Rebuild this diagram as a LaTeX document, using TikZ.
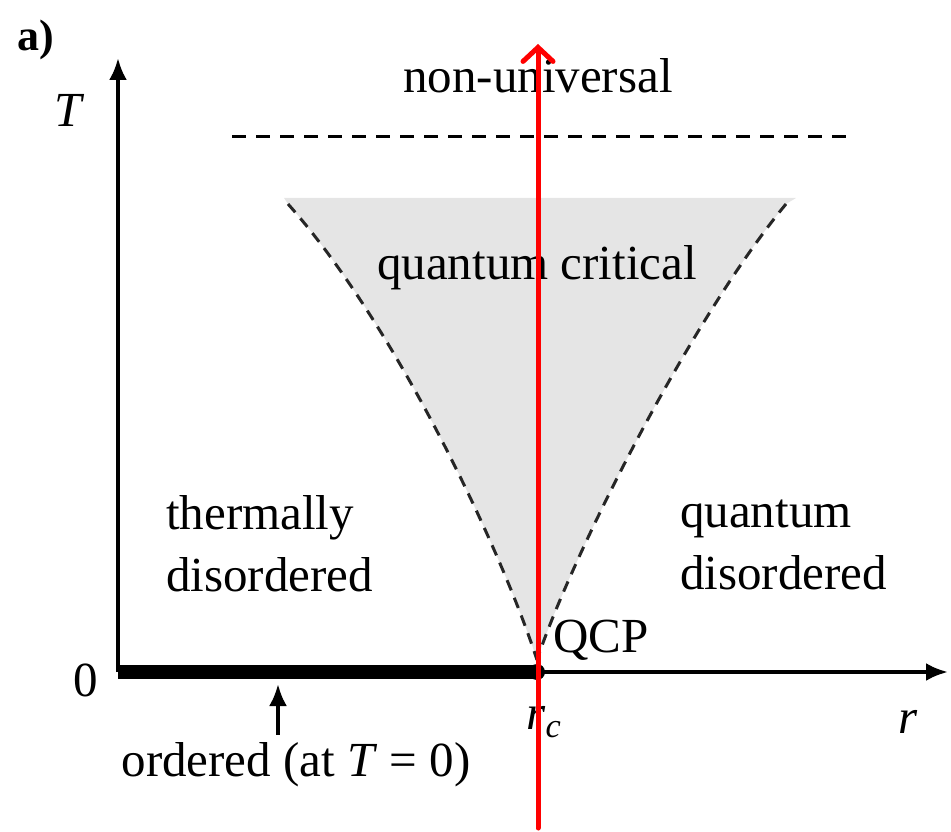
\documentclass[tikz,border=0pt]{standalone}
\usepackage{fontspec}
\setmainfont{Liberation Serif}
\usetikzlibrary{arrows.meta}
\begin{document}
\begin{tikzpicture}[x=1pt,y=-1pt,
  lbl/.style={inner sep=0pt,font=\fontsize{49}{62}\selectfont},
  axis/.style={line width=4pt,-{Latex[length=22pt,width=18pt]}},
  hdashline/.style={line width=3pt,dash pattern=on 14pt off 10pt},
  critline/.style={line width=3pt,dash pattern=on 11pt off 8pt,black!85}]
\useasboundingbox (0,0) rectangle (951,832);
% coordinates
\coordinate (O) at (118,672);
\coordinate (Ytop) at (118,58);
\coordinate (Xend) at (948,672);
\coordinate (QCPpt) at (537,672);
\coordinate (LT) at (288,204);
\coordinate (RT) at (786,204);
\coordinate (V) at (537,660);
% gray region
\fill[gray!20] (284,198) -- (796,198) -- (RT) .. controls (690,320) and (570,560) .. (V)
  .. controls (505,560) and (400,330) .. (LT) -- cycle;
\draw[critline] (LT) .. controls (400,330) and (505,560) .. (V);
\draw[critline] (RT) .. controls (690,320) and (570,560) .. (V);
% dashed line
\coordinate (DL) at (232,137);
\coordinate (DR) at (850,137);
\draw[hdashline] (DL) -- (DR);
% axes
\draw[axis] (O) -- (Ytop);
\draw[axis] (O) -- (Xend);
\draw[line width=14pt] (O) -- (QCPpt);
\fill (QCPpt) circle (8pt);
% labels
\node[lbl,font=\fontsize{44}{52}\selectfont\bfseries] (a) at (36,40) {a)};
\node[lbl] (Tl) at (70,110) {\textit{T}};
\node[lbl] (zero) at (86,680) {0};
\node[lbl] (rc) at (544,722) {\textit{r}\textsubscript{\textit{c}}};
\node[lbl] (rl) at (908,722) {\textit{r}};
\node[lbl] (nu) at (538,76) {non-universal};
\node[lbl] (qc) at (537,268) {quantum critical};
\node[lbl,align=left,anchor=north west] (td) at (166,495) {thermally\\disordered};
\node[lbl,align=left,anchor=north west] (qd) at (680,500) {quantum\\disordered};
\node[lbl,anchor=west] (qcp) at (553,640) {QCP};
\node[lbl] (ord) at (296,765) {ordered (at \textit{T} = 0)};
\coordinate (ordtip) at (278,684);
\draw[line width=4pt,-{Latex[length=22pt,width=18pt]}] (ord.north -| ordtip) ++(0,-8) -- (ordtip);
% red arrow
\coordinate (Rb) at (538,828);
\coordinate (Rt) at (538,44);
\draw[red,line width=5pt,line cap=round,-{Straight Barb[length=14pt,width=30pt,line cap=round]}] (Rb) -- (Rt);
\end{tikzpicture}
\end{document}
